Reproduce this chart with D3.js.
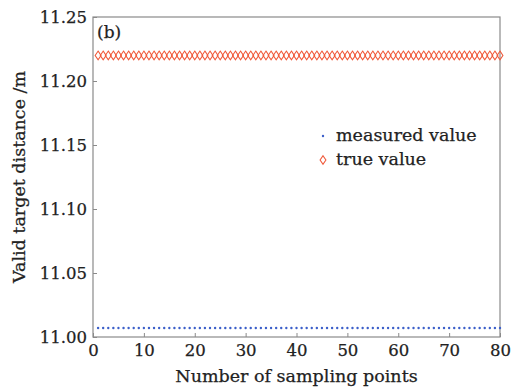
<!DOCTYPE html>
<html>
<head>
<meta charset="utf-8">
<script src="https://cdn.jsdelivr.net/npm/d3@7"></script>
<style>
  body { margin: 0; background: #fff; }
  svg { display: block; font-family: "DejaVu Serif", serif; }
  svg text { stroke: #222; stroke-width: 0.25px; }
</style>
</head>
<body>
<div id="chart"></div>
<script>
// data
const samplePoints = d3.range(1, 81);
const measuredValues = samplePoints.map(() => 11.007);
const trueValues = samplePoints.map(() => 11.22);
const xTicks = [0, 10, 20, 30, 40, 50, 60, 70, 80];
const yTicks = [11.00, 11.05, 11.10, 11.15, 11.20, 11.25];

const width = 512;
const height = 389;
const margin = {top: 17, right: 12, bottom: 52, left: 93};

const svg = d3.select('#chart')
  .append('svg')
    .attr('width', width)
    .attr('height', height);

const x = d3.scaleLinear()
  .domain([0, 80])
  .range([margin.left, width - margin.right]);

const y = d3.scaleLinear()
  .domain([11.0, 11.25])
  .range([height - margin.bottom, margin.top]);

// frame
svg.append('rect')
  .attr('x', margin.left)
  .attr('y', margin.top)
  .attr('width', x(80) - x(0))
  .attr('height', y(11.0) - y(11.25))
  .attr('fill', 'none')
  .attr('stroke', '#8a8a8a')
  .attr('stroke-width', 1.2);

// axes, ticks pointing in
const xAxis = svg.append('g')
  .attr('transform', `translate(0,${y(11.0)})`)
  .call(d3.axisBottom(x).tickValues(xTicks).tickSizeInner(-4).tickSizeOuter(0).tickPadding(5).tickFormat(d3.format('d')));

const yAxis = svg.append('g')
  .attr('transform', `translate(${x(0)},0)`)
  .call(d3.axisLeft(y).tickValues(yTicks).tickSizeInner(-4).tickSizeOuter(0).tickPadding(6).tickFormat(d3.format('.2f')));

[xAxis, yAxis].forEach(g => {
  g.select('.domain').remove();
  g.selectAll('line').attr('stroke', '#8a8a8a');
  g.selectAll('text')
    .attr('fill', '#222')
    .style('font-size', '16.5px')
    .style('font-family', '"DejaVu Serif", serif');
});
xAxis.selectAll('text').attr('dy', '0.85em');

// axis titles
svg.append('text')
  .attr('x', (x(0) + x(80)) / 2)
  .attr('y', 382)
  .attr('text-anchor', 'middle')
  .attr('fill', '#222')
  .style('font-size', '17.5px')
  .text('Number of sampling points');

svg.append('text')
  .attr('transform', `translate(25,${(y(11.0) + y(11.25)) / 2}) rotate(-90)`)
  .attr('text-anchor', 'middle')
  .attr('fill', '#222')
  .style('font-size', '17.5px')
  .text('Valid target distance /m');

svg.append('text')
  .attr('x', 97)
  .attr('y', 38)
  .attr('fill', '#222')
  .style('font-size', '17px')
  .text('(b)');

// series
const diamond = d3.symbol().type(d3.symbolDiamond).size(30);

svg.append('g')
  .selectAll('path')
  .data(trueValues)
  .join('path')
    .attr('d', diamond)
    .attr('transform', (d, i) => `translate(${x(samplePoints[i])},${y(d)}) scale(1,0.85)`)
    .attr('fill', 'none')
    .attr('stroke', '#f0593a')
    .attr('stroke-width', 1.1);

svg.append('g')
  .selectAll('circle')
  .data(measuredValues)
  .join('circle')
    .attr('cx', (d, i) => x(samplePoints[i]))
    .attr('cy', d => y(d))
    .attr('r', 1.2)
    .attr('fill', '#3b5fc9');

// legend
const legend = svg.append('g');
legend.append('circle')
  .attr('cx', 323).attr('cy', 136).attr('r', 1.2)
  .attr('fill', '#3b5fc9');
legend.append('path')
  .attr('d', diamond)
  .attr('transform', 'translate(323,160) scale(1,0.85)')
  .attr('fill', 'none')
  .attr('stroke', '#f0593a')
  .attr('stroke-width', 1.1);
legend.append('text')
  .attr('x', 336).attr('y', 141)
  .attr('fill', '#222')
  .style('font-size', '17.5px')
  .text('measured value');
legend.append('text')
  .attr('x', 336).attr('y', 165)
  .attr('fill', '#222')
  .style('font-size', '17.5px')
  .text('true value');
</script>
</body>
</html>
